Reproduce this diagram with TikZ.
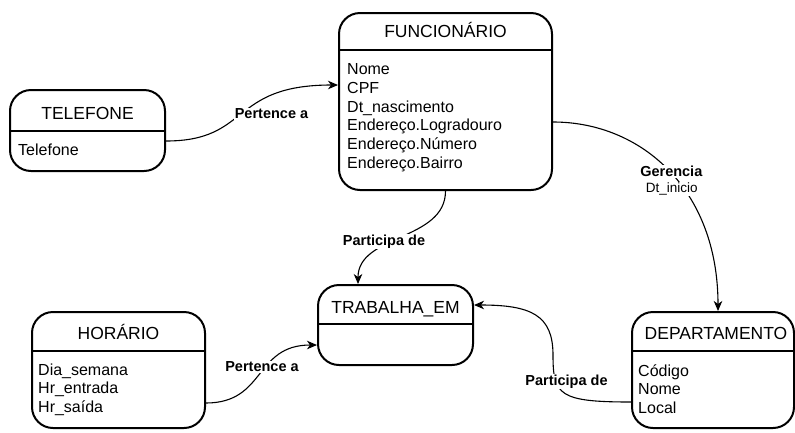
\documentclass[tikz,border=0pt]{standalone}
\usepackage{fontspec}
\setmainfont{Liberation Sans}
\usetikzlibrary{arrows.meta}
\begin{document}
\begin{tikzpicture}[x=1pt,y=-1pt,
  entity/.style={draw, line width=2pt, rounded corners=21pt, fill=white, inner sep=0pt},
  divider/.style={line width=2pt},
  etitle/.style={anchor=base, inner sep=0pt, font=\fontsize{17.5}{21}\selectfont},
  attrs/.style={anchor=north west, inner sep=0pt, align=left, font=\fontsize{16}{18.7}\selectfont},
  rel/.style={line width=1.1pt, -{Stealth[length=10pt,width=8.5pt,inset=3pt]}},
  rellabel/.style={anchor=base, fill=white, inner sep=1pt, font=\bfseries\fontsize{14.5}{17}\selectfont},
  relnote/.style={anchor=base, fill=white, inner sep=1pt, font=\fontsize{13.5}{16}\selectfont},
]
\useasboundingbox (0,0) rectangle (795,432);

% entity boxes
\node[entity, minimum width=213pt, minimum height=177pt] (fun) at (445.5,101.5) {};
\node[entity, minimum width=155pt, minimum height=81pt]  (tel) at (87.5,130.5) {};
\node[entity, minimum width=173pt, minimum height=116pt] (hor) at (118.5,370) {};
\node[entity, minimum width=155pt, minimum height=80pt]  (tra) at (395.5,325) {};
\node[entity, minimum width=162pt, minimum height=116pt] (dep) at (713,370) {};

% header dividers
\draw[divider] ([yshift=-38pt]fun.north west) -- ([yshift=-38pt]fun.north east);
\draw[divider] ([yshift=-42pt]tel.north west) -- ([yshift=-42pt]tel.north east);
\draw[divider] ([yshift=-40pt]hor.north west) -- ([yshift=-40pt]hor.north east);
\draw[divider] ([yshift=-40pt]tra.north west) -- ([yshift=-40pt]tra.north east);
\draw[divider] ([yshift=-39.5pt]dep.north west) -- ([yshift=-39.5pt]dep.north east);

% entity titles
\node[etitle] (funT) at (445.5,37) {FUNCIONÁRIO};
\node[etitle] (telT) at (87.5,119) {TELEFONE};
\node[etitle] (horT) at (118.5,339) {HORÁRIO};
\node[etitle] (traT) at (395.5,313) {TRABALHA\_EM};
\node[etitle] (depT) at (716,339) {DEPARTAMENTO};

% attributes
\node[attrs] (funA) at (347,61.4) {\strut Nome\\\strut CPF\\\strut Dt\_nascimento\\\strut Endereço.Logradouro\\\strut Endereço.Número\\\strut Endereço.Bairro};
\node[attrs] (telA) at (18,141.9) {\strut Telefone};
\node[attrs] (horA) at (38,361.9) {\strut Dia\_semana\\\strut Hr\_entrada\\\strut Hr\_saída};
\node[attrs] (depA) at (638,362.9) {\strut Código\\\strut Nome\\\strut Local};

% relationships
\draw[rel] ([yshift=-10.5pt]tel.east) .. controls +(85,0) and +(-109,0) .. ([yshift=16.5pt]fun.west);
\draw[rel] (fun.south) .. controls +(0,50) and +(0,-50) .. ([xshift=-37.5pt]tra.north);
\draw[rel] ([yshift=-20.5pt]fun.east) .. controls +(88,0) and +(0,-122) .. ([xshift=5pt]dep.north);
\draw[rel] ([yshift=-33pt]hor.east) .. controls +(60,0) and +(-63,0) .. ([yshift=-20pt]tra.west);
\coordinate (bend) at (553,355);
\draw[rel] ([yshift=-32pt]dep.west) .. controls +(-72,0) and (553,395) .. (bend)
  .. controls (553,315) and +(57,0) .. ([yshift=20pt]tra.east);

% relationship labels
\node[rellabel] (l1) at (271.5,118.5) {Pertence a};
\node[rellabel] (l2) at (384,245) {Participa de};
\node[rellabel] (l3) at (671.3,176.7) {Gerencia};
\node[relnote]  (l3b) at (671.7,192.7) {Dt\_inicio};
\node[rellabel] (l4) at (262,371.7) {Pertence a};
\node[rellabel] (l5) at (566.5,385) {Participa de};
\end{tikzpicture}
\end{document}
